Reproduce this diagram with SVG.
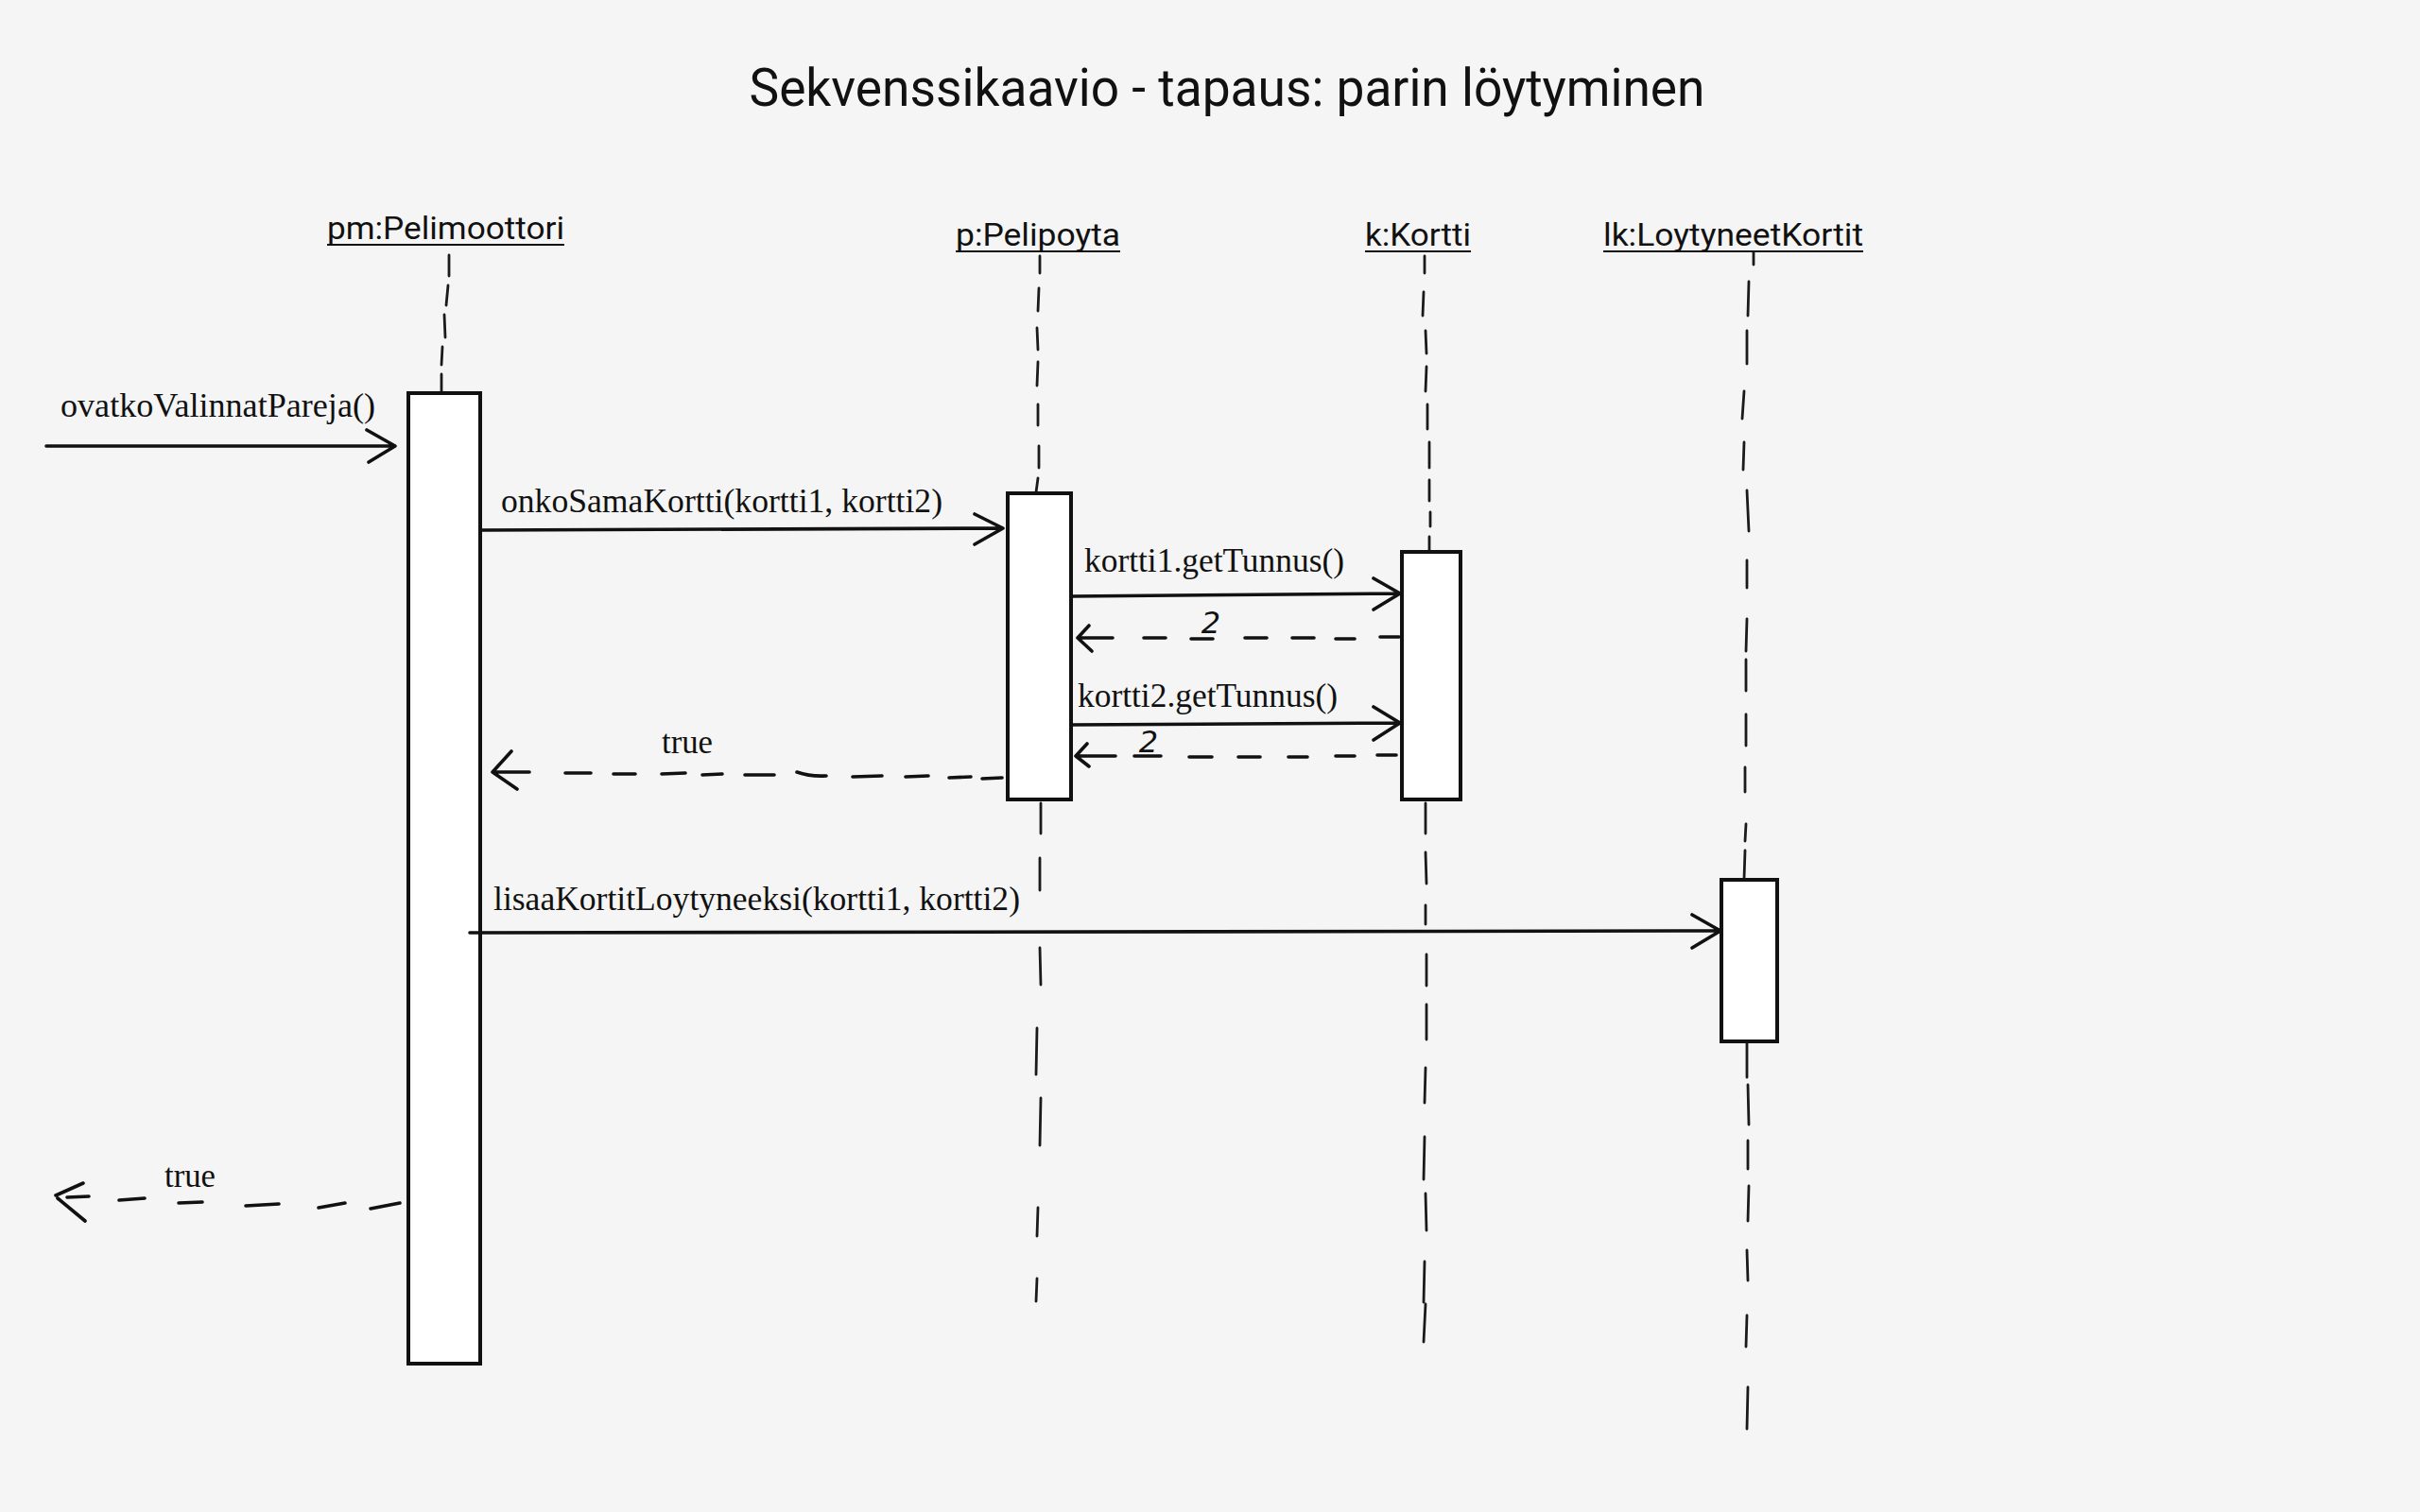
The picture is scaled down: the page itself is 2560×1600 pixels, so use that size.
<svg xmlns="http://www.w3.org/2000/svg" width="2560" height="1600" viewBox="0 0 2560 1600">
<style>
.bg{fill:#f5f5f5}
.title{font-family:Roboto,"Liberation Sans",sans-serif;font-size:55px;fill:#111}
.obj{font-family:Roboto,"Liberation Sans",sans-serif;font-size:34px;fill:#111}
.msg{font-family:"Liberation Serif","Times New Roman",serif;font-size:35px;fill:#111}
.hand{font-family:"DejaVu Sans","Liberation Sans",sans-serif;font-style:italic;font-size:32px;fill:#111}
.ul{stroke:#111;stroke-width:2;fill:none}
.act{fill:#ffffff;stroke:#111;stroke-width:4}
.life{stroke:#1a1a1a;stroke-width:2.8;fill:none;stroke-linecap:round}
.sol{stroke:#111;stroke-width:3.6;fill:none;stroke-linecap:round;stroke-linejoin:round}
.dash{stroke:#111;stroke-width:3.6;fill:none;stroke-linecap:round;stroke-linejoin:round}
</style>
<rect class="bg" x="0" y="0" width="2560" height="1600"/>
<text class="title" x="1298" y="112" text-anchor="middle" textLength="1011" lengthAdjust="spacingAndGlyphs">Sekvenssikaavio - tapaus: parin löytyminen</text>

<g id="pm">
<text class="obj" x="346" y="253" textLength="251" lengthAdjust="spacingAndGlyphs">pm:Pelimoottori</text>
<line class="ul" x1="346" y1="259" x2="597" y2="259"/>
<path class="life" d="M475 270 L475 292 M474 302 L472 323 M470 333 L471 357 M468 367 L467 386 M467 396 L467 416"/>
<rect class="act" x="432" y="416" width="76" height="1027"/>
</g>

<g id="p">
<text class="obj" x="1011" y="260" textLength="174" lengthAdjust="spacingAndGlyphs">p:Pelipoyta</text>
<line class="ul" x1="1011" y1="266" x2="1185" y2="266"/>
<path class="life" d="M1100 271 L1100 289 M1099 305 L1098 329 M1097 347 L1098 370 M1098 383 L1097 408 M1098 428 L1098 450 M1099 472 L1099 495 M1098 506 L1096 521 M1101 850 L1101 882 M1100 908 L1100 942 M1100 1003 L1101 1042 M1097 1088 L1096 1137 M1101 1162 L1100 1212 M1098 1278 L1097 1308 M1097 1353 L1096 1377"/>
<rect class="act" x="1066" y="522" width="67" height="324"/>
</g>

<g id="k">
<text class="obj" x="1444" y="260" textLength="112" lengthAdjust="spacingAndGlyphs">k:Kortti</text>
<line class="ul" x1="1444" y1="266" x2="1556" y2="266"/>
<path class="life" d="M1507 271 L1507 289 M1506 309 L1505 334 M1508 350 L1509 374 M1509 388 L1508 414 M1510 428 L1510 454 M1512 468 L1512 495 M1512 508 L1512 530 M1513 542 L1513 557 M1512 568 L1512 584 M1508 850 L1508 882 M1508 902 L1509 935 M1508 958 L1508 978 M1509 1010 L1509 1043 M1509 1063 L1509 1100 M1508 1130 L1507 1167 M1507 1203 L1506 1248 M1508 1263 L1509 1302 M1507 1335 L1506 1378 M1508 1380 L1506 1420"/>
<rect class="act" x="1483" y="584" width="62" height="262"/>
</g>

<g id="lk">
<text class="obj" x="1696" y="260" textLength="275" lengthAdjust="spacingAndGlyphs">lk:LoytyneetKortit</text>
<line class="ul" x1="1696" y1="266" x2="1971" y2="266"/>
<path class="life" d="M1855 267 L1855 280 M1850 298 L1849 334 M1848 350 L1848 385 M1845 414 L1843 443 M1845 468 L1844 497 M1848 519 L1850 562 M1848 593 L1848 622 M1848 655 L1847 689 M1847 698 L1847 731 M1847 756 L1847 789 M1846 812 L1846 838 M1847 872 L1846 890 M1846 900 L1845 930 M1848 1103 L1848 1140 M1849 1148 L1850 1190 M1849 1207 L1849 1237 M1850 1255 L1849 1292 M1848 1323 L1849 1355 M1848 1392 L1847 1425 M1849 1468 L1848 1512"/>
<rect class="act" x="1821" y="931" width="59" height="171"/>
</g>

<g id="connectors">
<g id="m-ovatko">
<path class="sol" d="M49 472 L418 472 M388 455 L418 472 L390 489"/>
<text class="msg" x="64" y="441" textLength="333" lengthAdjust="spacingAndGlyphs">ovatkoValinnatPareja()</text>
</g>
<g id="m-onko">
<path class="sol" d="M508 561 L1061 559 M1031 544 L1061 559 L1031 576"/>
<text class="msg" x="530" y="542" textLength="467" lengthAdjust="spacingAndGlyphs">onkoSamaKortti(kortti1, kortti2)</text>
</g>
<g id="m-k1">
<path class="sol" d="M1133 631 L1481 628 M1453 612 L1481 628 L1453 645"/>
<text class="msg" x="1147" y="605" textLength="275" lengthAdjust="spacingAndGlyphs">kortti1.getTunnus()</text>
</g>
<g id="r-k1">
<path class="dash" d="M1152 662 L1140 675 L1155 689 M1140 675 L1177 675 M1210 675 L1233 675 M1260 676 L1283 676 M1317 675 L1340 675 M1367 675 L1390 675 M1413 676 L1433 676 M1460 674 L1480 674"/>
<text class="hand" x="1281" y="670" text-anchor="middle">2</text>
</g>
<g id="m-k2">
<path class="sol" d="M1133 767 L1481 765 M1453 748 L1481 765 L1453 783"/>
<text class="msg" x="1140" y="748" textLength="275" lengthAdjust="spacingAndGlyphs">kortti2.getTunnus()</text>
</g>
<g id="r-k2">
<path class="dash" d="M1150 787 L1138 800 L1152 811 M1138 800 L1180 800 M1200 800 L1228 800 M1258 801 L1282 801 M1310 801 L1333 801 M1363 801 L1383 801 M1413 800 L1433 800 M1457 799 L1477 799"/>
<text class="hand" x="1215" y="796" text-anchor="middle">2</text>
</g>
<g id="r-true1">
<path class="dash" d="M541 795 L521 817 L547 835 M521 817 L560 817 M598 818 L625 818 M649 819 L672 819 M700 819 L725 818 M743 820 L764 819 M788 820 L819 820 M843 817 Q857 822 874 821 M902 822 L933 821 M958 822 L982 821 M1004 823 L1027 822 M1039 824 L1060 823"/>
<text class="msg" x="700" y="797" textLength="54" lengthAdjust="spacingAndGlyphs">true</text>
</g>
<g id="m-lisaa">
<path class="sol" d="M497 987 L1818 985 M1790 968 L1820 985 L1790 1003"/>
<text class="msg" x="522" y="963" textLength="557" lengthAdjust="spacingAndGlyphs">lisaaKortitLoytyneeksi(kortti1, kortti2)</text>
</g>
<g id="r-true2">
<path class="dash" d="M88 1252 L59 1265 M61 1268 L90 1292 M71 1267 L94 1266 M126 1270 L153 1268 M189 1273 L214 1272 M260 1276 L295 1274 M337 1278 L365 1273 M392 1279 L423 1273"/>
<text class="msg" x="174" y="1256" textLength="54" lengthAdjust="spacingAndGlyphs">true</text>
</g>
</g>
</svg>
